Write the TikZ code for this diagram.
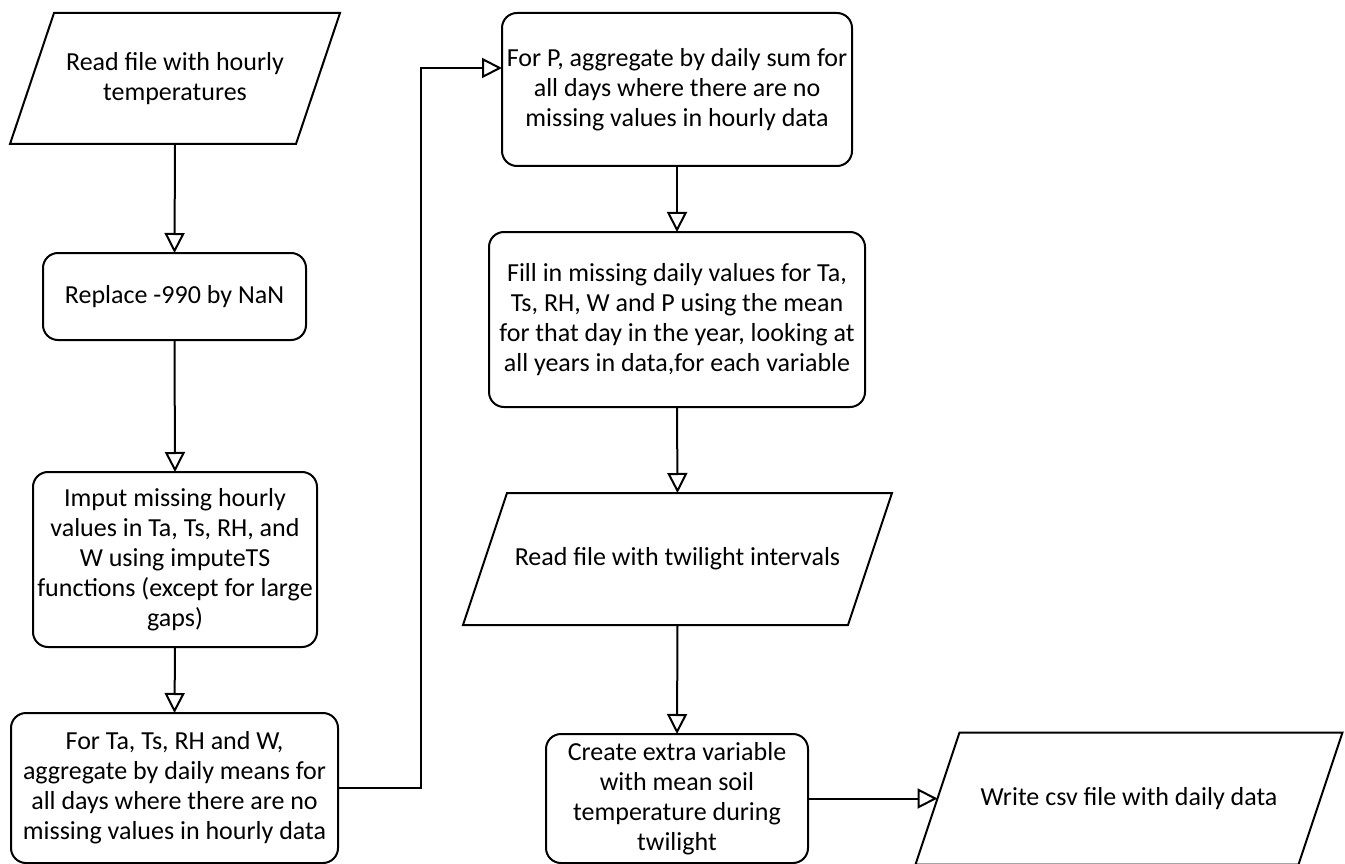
\documentclass[tikz,border=0pt]{standalone}
\usepackage{fontspec}
\setmainfont{Carlito}
\usetikzlibrary{arrows.meta}

\tikzset{
	stepbox/.style={draw,rounded corners=15pt,align=center,line width=2pt,inner sep=2pt,outer sep=0pt,font=\fontsize{26}{30}\selectfont},
	iobox/.style={align=center,inner sep=2pt,outer sep=0pt,font=\fontsize{26}{30}\selectfont},
	flow/.style={-{Triangle[open,length=20pt,width=20pt]},line width=2pt}
}

\begin{document}
\begin{tikzpicture}[x=1pt,y=-1pt]
\useasboundingbox (0,0) rectangle (1345,864);
% left column
\node[iobox,minimum width=286pt,minimum height=131pt] (readhourly) at (175,78.5) {Read file with hourly\\temperatures};
\node[stepbox,minimum width=263pt,minimum height=87pt] (replace) at (174.5,296.5) {Replace -990 by NaN};
\node[stepbox,minimum width=284pt,minimum height=175pt] (imput) at (175,559.5) {Imput missing hourly\\values in Ta, Ts, RH, and\\W using imputeTS\\functions (except for large\\gaps)};
\node[stepbox,minimum width=327pt,minimum height=150pt] (dailymean) at (174.5,788) {For Ta, Ts, RH and W,\\aggregate by daily means for\\all days where there are no\\missing values in hourly data};
% right column
\node[stepbox,minimum width=350pt,minimum height=153pt] (dailysum) at (677,89.5) {For P, aggregate by daily sum for\\all days where there are no\\missing values in hourly data};
\node[stepbox,minimum width=376pt,minimum height=175pt] (fillin) at (677,319.5) {Fill in missing daily values for Ta,\\Ts, RH, W and P using the mean\\for that day in the year, looking at\\all years in data,for each variable};
\node[iobox,minimum width=385pt,minimum height=132pt] (readtwilight) at (677.5,559) {Read file with twilight intervals};
\node[stepbox,minimum width=262pt,minimum height=129pt] (soiltemp) at (677,798.5) {Create extra variable\\with mean soil\\temperature during\\twilight};
\node[iobox,minimum width=383pt,minimum height=132pt] (writecsv) at (1129,798.5) {Write csv file with daily data};
\coordinate (bend) at (421,68);

% parallelograms for the file steps
\foreach \n in {readhourly,readtwilight,writecsv}
	\draw[line width=2pt] ([xshift=22pt]\n.north west) -- ([xshift=22pt]\n.north east) -- ([xshift=-22pt]\n.south east) -- ([xshift=-22pt]\n.south west) -- cycle;

\draw[flow] (readhourly.south) -- (replace.north);
\draw[flow] (replace.south) -- (imput.north);
\draw[flow] (imput.south) -- (dailymean.north);
\draw[flow] (dailymean.east) -| (bend) -- ([yshift=21.5pt]dailysum.west);
\draw[flow] (dailysum.south) -- (fillin.north);
\draw[flow] (fillin.south) -- (readtwilight.north);
\draw[flow] (readtwilight.south) -- (soiltemp.north);
\draw[flow] (soiltemp.east) -- (writecsv.west);
\end{tikzpicture}
\end{document}
